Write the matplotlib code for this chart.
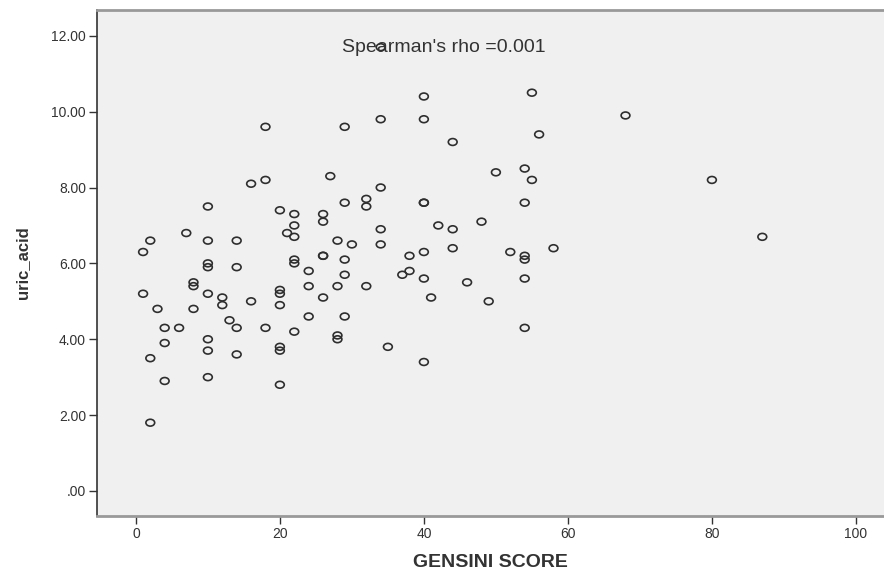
import numpy as np
import matplotlib
matplotlib.use("Agg")
import matplotlib.pyplot as plt
from matplotlib.path import Path

plt.rcParams['font.family'] = ['Liberation Sans', 'DejaVu Sans']

# GENSINI score vs uric acid
gensini = [18, 29, 34, 16, 18, 27, 34, 10, 20, 22, 26, 26, 29, 32, 32,
           22, 21, 22, 7, 2, 10, 14, 1, 28, 30, 34, 34,
           10, 10, 14, 22, 22, 26, 26, 29, 24, 29, 8, 8, 1, 10, 12, 12, 16,
           20, 20, 20, 24, 28, 32, 26, 3, 8, 24, 29, 4, 6, 13, 14, 18, 22,
           28, 28, 4, 10, 10, 14, 20, 20, 35, 2, 4, 10, 20, 2,
           55, 40, 68, 40, 56, 44, 50, 54, 55, 40, 40, 54, 42, 44, 48,
           38, 40, 44, 52, 54, 54, 58, 37, 38, 40, 46, 54, 41, 49, 54, 40,
           80, 87, 34]
uric_acid = [9.6, 9.6, 9.8, 8.1, 8.2, 8.3, 8.0, 7.5, 7.4, 7.3, 7.3, 7.1, 7.6, 7.7, 7.5,
             7.0, 6.8, 6.7, 6.8, 6.6, 6.6, 6.6, 6.3, 6.6, 6.5, 6.9, 6.5,
             6.0, 5.9, 5.9, 6.1, 6.0, 6.2, 6.2, 6.1, 5.8, 5.7, 5.5, 5.4, 5.2, 5.2, 5.1, 4.9, 5.0,
             5.3, 5.2, 4.9, 5.4, 5.4, 5.4, 5.1, 4.8, 4.8, 4.6, 4.6, 4.3, 4.3, 4.5, 4.3, 4.3, 4.2,
             4.1, 4.0, 3.9, 4.0, 3.7, 3.6, 3.8, 3.7, 3.8, 3.5, 2.9, 3.0, 2.8, 1.8,
             10.5, 10.4, 9.9, 9.8, 9.4, 9.2, 8.4, 8.5, 8.2, 7.6, 7.6, 7.6, 7.0, 6.9, 7.1,
             6.2, 6.3, 6.4, 6.3, 6.2, 6.1, 6.4, 5.7, 5.8, 5.6, 5.5, 5.6, 5.1, 5.0, 4.3, 3.4,
             8.2, 6.7, 11.7]

x_ticks = [0, 20, 40, 60, 80, 100]
y_ticks = [0, 2, 4, 6, 8, 10, 12]
y_labels = ['.00', '2.00', '4.00', '6.00', '8.00', '10.00', '12.00']

fig = plt.figure(figsize=(8.84, 5.69), dpi=100)
ax = fig.add_axes([97 / 884, 53 / 569, 1 - 97 / 884, 506 / 569])
ax.set_facecolor('#f0f0f0')

# slightly flattened circle like the SPSS output
circ = Path.unit_circle()
ell = Path(circ.vertices * np.array([1.0, 0.78]), circ.codes)
ax.scatter(gensini, uric_acid, marker=ell, s=40, facecolors='none',
           edgecolors='#2e2e2e', linewidths=1.2, zorder=3)

ax.text(42.8, 11.68, "Spearman's rho =0.001", ha='center', va='center',
        fontsize=14, color='#333333', zorder=4)

ax.set_xlim(-5.4, 103.9)
ax.set_ylim(-0.66, 12.68)
ax.set_xticks(x_ticks)
ax.set_yticks(y_ticks)
ax.set_yticklabels(y_labels)
ax.tick_params(axis='both', direction='out', length=6, width=1, color='#333333',
               labelsize=10, labelcolor='#333333', pad=2)

ax.spines['right'].set_visible(False)
ax.spines['left'].set_color('#333333')
ax.spines['left'].set_linewidth(1.2)
ax.spines['top'].set_color('#999999')
ax.spines['top'].set_linewidth(2)
ax.spines['bottom'].set_color('#999999')
ax.spines['bottom'].set_linewidth(2)

ax.set_xlabel('GENSINI SCORE', fontsize=14, fontweight='bold', color='#333333', labelpad=9)
ax.set_ylabel('uric_acid', fontsize=12, fontweight='bold', color='#333333', labelpad=15)

fig.savefig('out.png', dpi=100)
